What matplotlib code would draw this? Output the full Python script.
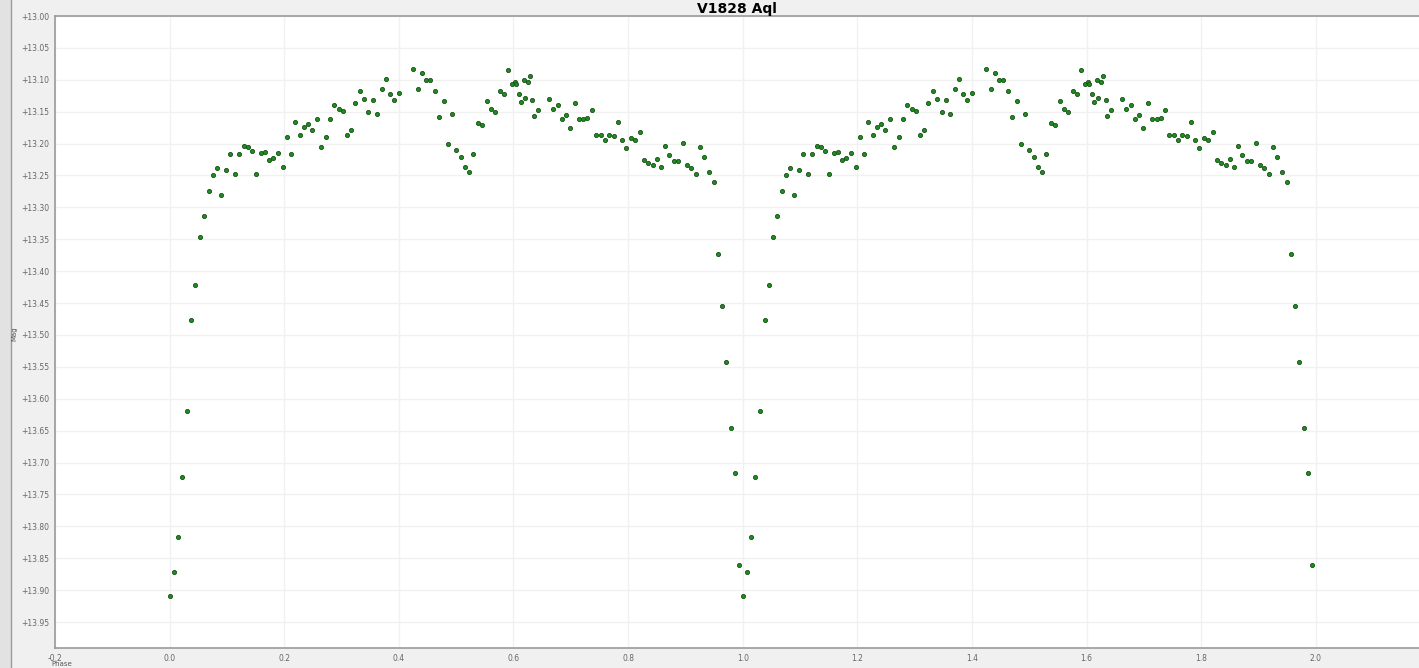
import matplotlib.pyplot as plt
from matplotlib.ticker import FuncFormatter, MultipleLocator
from matplotlib.patches import Rectangle
from matplotlib.lines import Line2D

# folded light curve, one cycle (drawn twice: phase and phase + 1)
phase = [0.000, 0.007, 0.015, 0.022, 0.030, 0.038, 0.045, 0.053, 0.060, 0.068,
         0.075, 0.083, 0.090, 0.098, 0.106, 0.114, 0.121, 0.129, 0.136, 0.144,
         0.151, 0.159, 0.166, 0.174, 0.181, 0.189, 0.197, 0.204, 0.212, 0.219,
         0.227, 0.234, 0.242, 0.249, 0.257, 0.264, 0.272, 0.280, 0.287, 0.295,
         0.302, 0.310, 0.317, 0.324, 0.332, 0.339, 0.347, 0.355, 0.362, 0.370,
         0.377, 0.385, 0.392, 0.400, 0.424, 0.433, 0.440, 0.448, 0.455, 0.463,
         0.470, 0.478, 0.486, 0.493, 0.500, 0.508, 0.515, 0.523, 0.530, 0.538,
         0.545, 0.553, 0.561, 0.568, 0.576, 0.583, 0.591, 0.598, 0.602, 0.605,
         0.610, 0.613, 0.618, 0.620, 0.625, 0.628, 0.633, 0.636, 0.643, 0.662,
         0.669, 0.677, 0.684, 0.691, 0.699, 0.707, 0.714, 0.722, 0.729, 0.737,
         0.744, 0.752, 0.760, 0.767, 0.775, 0.782, 0.790, 0.797, 0.805, 0.812,
         0.820, 0.828, 0.835, 0.843, 0.850, 0.858, 0.865, 0.872, 0.880, 0.887,
         0.895, 0.903, 0.910, 0.918, 0.925, 0.933, 0.941, 0.949, 0.956, 0.964,
         0.971, 0.979, 0.986, 0.994]
mag = [13.909, 13.872, 13.816, 13.722, 13.619, 13.476, 13.422, 13.346, 13.313, 13.274,
       13.249, 13.239, 13.281, 13.241, 13.217, 13.248, 13.216, 13.203, 13.206, 13.212,
       13.247, 13.214, 13.213, 13.226, 13.222, 13.214, 13.237, 13.190, 13.216, 13.166,
       13.187, 13.174, 13.170, 13.178, 13.161, 13.206, 13.189, 13.162, 13.139, 13.146,
       13.149, 13.187, 13.178, 13.136, 13.118, 13.130, 13.151, 13.131, 13.154, 13.115,
       13.099, 13.123, 13.131, 13.120, 13.083, 13.114, 13.090, 13.100, 13.100, 13.117,
       13.159, 13.134, 13.201, 13.153, 13.210, 13.221, 13.236, 13.245, 13.217, 13.168,
       13.171, 13.134, 13.145, 13.150, 13.117, 13.122, 13.085, 13.107, 13.103, 13.106,
       13.123, 13.135, 13.100, 13.128, 13.104, 13.094, 13.131, 13.156, 13.148, 13.130,
       13.146, 13.139, 13.161, 13.155, 13.176, 13.136, 13.161, 13.161, 13.160, 13.148,
       13.186, 13.186, 13.194, 13.187, 13.188, 13.166, 13.194, 13.207, 13.191, 13.195,
       13.182, 13.225, 13.230, 13.234, 13.224, 13.236, 13.203, 13.218, 13.228, 13.227,
       13.199, 13.234, 13.239, 13.247, 13.206, 13.221, 13.245, 13.260, 13.373, 13.454,
       13.543, 13.645, 13.717, 13.861]

x_ticks = [-0.2, 0.0, 0.2, 0.4, 0.6, 0.8, 1.0, 1.2, 1.4, 1.6, 1.8, 2.0]

fig = plt.figure(figsize=(14.19, 6.68), dpi=100, facecolor='#f0f0f0')

# left window strip
fig.patches.append(Rectangle((0, 0), 11 / 1419, 1, transform=fig.transFigure,
                             facecolor='#e2e2e2', edgecolor='none', zorder=0))
fig.lines.append(Line2D([11 / 1419, 11 / 1419], [0, 1], transform=fig.transFigure,
                        color='#9a9a9a', lw=1))

ax = fig.add_axes([55 / 1419, 20 / 668, 1 - 55 / 1419, 632 / 668])
ax.set_facecolor('white')

ph2 = [p + 1 for p in phase]
for xs in (phase, ph2):
    ax.scatter(xs, mag, s=9, facecolor='#1f8c1f', edgecolor='#174f17',
               linewidths=0.6, zorder=3)

ax.set_xlim(-0.2, 2.180)
ax.set_ylim(13.9906, 13.0)

ax.set_xticks(x_ticks)
ax.xaxis.set_major_formatter(FuncFormatter(lambda v, p: f"{v:.1f}"))
ax.yaxis.set_major_locator(MultipleLocator(0.05))
ax.yaxis.set_major_formatter(FuncFormatter(lambda v, p: f"+{v:.2f}"))
ax.tick_params(length=0, labelsize=5.5, labelcolor='#666666', pad=4)
ax.grid(True, color='#f1f1f1', lw=1)
ax.set_axisbelow(True)

for side in ('left', 'bottom', 'top'):
    ax.spines[side].set_color('#9a9a9a')
    ax.spines[side].set_linewidth(1.2)
ax.spines['right'].set_visible(False)

ax.set_title('V1828 Aql', fontsize=10, fontweight='bold', pad=2)
fig.text(14 / 1419, 0.5, 'Mag', rotation=90, fontsize=5, color='#555555',
         ha='center', va='center')
fig.text(62 / 1419, 1 / 668, 'Phase', fontsize=5, color='#555555',
         ha='center', va='bottom')

fig.savefig('out.png', dpi=100, facecolor=fig.get_facecolor())
